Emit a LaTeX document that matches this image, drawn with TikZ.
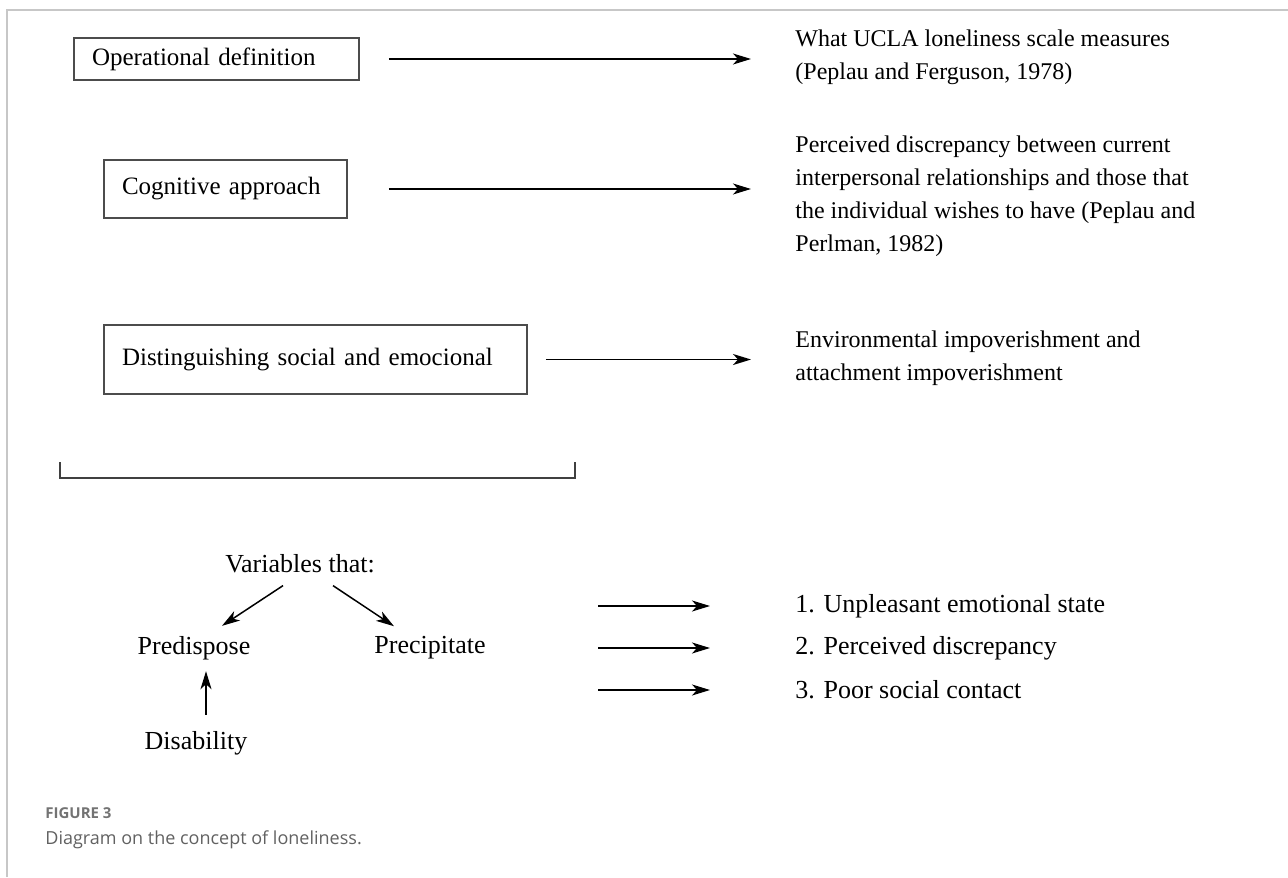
\documentclass[tikz,border=0pt]{standalone}
\usepackage{fontspec}
\setmainfont{Liberation Serif}
\newfontfamily\capfont{Open Sans}
\usetikzlibrary{arrows.meta}

\tikzset{
  conceptbox/.style={draw=black!70,line width=0.75pt,inner xsep=9pt,inner ysep=0pt,align=left,font=\fontsize{12.5}{16.5}\selectfont},
  desc/.style={anchor=west,align=left,inner sep=0pt,font=\fontsize{12}{16.5}\selectfont},
  plain/.style={inner sep=0pt,font=\fontsize{13}{16.5}\selectfont},
  arr/.style={-{Stealth[length=9pt,width=5.5pt,inset=2.5pt]},line width=0.75pt},
}

\begin{document}
\begin{tikzpicture}[x=0.5pt,y=-0.5pt]
\useasboundingbox (0,0) rectangle (1288,877);
\draw[black!22,line width=1pt] (7,877) -- (7,10) -- (1288,10);

\node[conceptbox,text width=124.5pt,minimum height=21pt] (opdef) at (216.5,59) {Operational definition};
\node[conceptbox,text width=103.5pt,minimum height=29pt] (cogn) at (225.5,189) {Cognitive approach};
\node[conceptbox,text width=193.5pt,minimum height=34.5pt] (distg) at (315.5,359.5) {Distinguishing social and emocional};

\node[desc] (ucla) at (795,57) {What UCLA loneliness scale measures\\(Peplau and Ferguson, 1978)};
\node[desc] (discr) at (795,196) {Perceived discrepancy between current\\interpersonal relationships and those that\\the individual wishes to have (Peplau and\\Perlman, 1982)};
\node[desc] (impov) at (795,358) {Environmental impoverishment and\\attachment impoverishment};

\draw[arr,shorten <=14.5pt,shorten >=22pt] (opdef.east) -- (opdef.east -| ucla.west);
\draw[arr,shorten <=20.5pt,shorten >=22pt] (cogn.east) -- (cogn.east -| discr.west);
\draw[arr,shorten <=9pt,shorten >=22pt] (distg.east) -- (distg.east -| impov.west);

\draw[black!75,line width=0.75pt] (60,462) -- (60,478) -- (575,478) -- (575,462);

\node[plain] (vars) at (300,564) {Variables that:};
\node[plain] (pred) at (194,648) {Predispose};
\node[plain] (prec) at (430,648) {Precipitate};
\node[plain] (dis) at (196,743) {Disability};

\draw[arr] ([xshift=-8.5pt,yshift=-6pt]vars.south) -- ([xshift=14pt,yshift=5pt]pred.north);
\draw[arr] ([xshift=16.5pt,yshift=-6pt]vars.south) -- ([xshift=-18pt,yshift=5pt]prec.north);
\draw[arr] ([xshift=5pt,yshift=8pt]dis.north) -- ([xshift=5pt,yshift=-5.5pt]dis.north |- pred.south);

\node[desc,font=\fontsize{13}{16.5}\selectfont] (item1) at (795,606) {1. Unpleasant emotional state};
\node[desc,font=\fontsize{13}{16.5}\selectfont] (item2) at (795,648) {2. Perceived discrepancy};
\node[desc,font=\fontsize{13}{16.5}\selectfont] (item3) at (795,690) {3. Poor social contact};
\foreach \i in {1,2,3}
  \draw[arr] ([xshift=-98.5pt]item\i.west) -- ([xshift=-42.5pt]item\i.west);

\node[anchor=west,inner sep=0pt,font=\capfont\fontsize{7.5}{9}\selectfont\bfseries,text=black!55] (figlab) at (45,813) {FIGURE 3};
\node[anchor=west,inner sep=0pt,font=\capfont\fontsize{9}{11}\selectfont,text=black!62] (figcap) at (45,840) {Diagram on the concept of loneliness.};
\end{tikzpicture}
\end{document}
